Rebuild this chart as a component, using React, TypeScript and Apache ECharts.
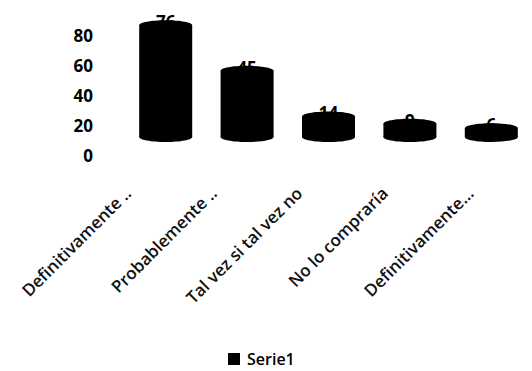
import React, { useEffect, useRef } from "react";
import * as echarts from "echarts";

const categories = [
  "Definitivamente ..",
  "Probablemente ..",
  "Tal vez si tal vez no",
  "No lo compraría",
  "Definitivamente...",
];
const values = [76, 45, 14, 9, 6];
const yTicks = [0, 20, 40, 60, 80];
const seriesName = "Serie1";

const FONT = "'Open Sans', 'DejaVu Sans', sans-serif";

export default function App() {
  const ref = useRef<HTMLDivElement>(null);
  useEffect(() => {
    if (!ref.current) return;
    const chart = echarts.init(ref.current, undefined, { renderer: "svg" });
    const option: any = {
      animation: false,
      color: ["#000000"],
      grid: [
        { left: 101, top: 35.5, width: 20, height: 119.5 },
        { left: 125, top: 19.4, width: 432, height: 117.6 },
        { left: 85, top: 150, width: 428, height: 32 },
      ],
      xAxis: [
        { gridIndex: 0, type: "category", show: false, data: [""] },
        { gridIndex: 1, type: "category", show: false, data: categories },
        {
          gridIndex: 2,
          type: "category",
          data: categories,
          axisLine: { show: false },
          axisTick: { show: false },
          axisLabel: {
            rotate: 45,
            interval: 0,
            margin: 8,
            fontSize: 17,
            fontWeight: 600,
            fontFamily: FONT,
            color: "#111",
          },
        },
      ],
      yAxis: [
        {
          gridIndex: 0,
          type: "value",
          min: yTicks[0],
          max: yTicks[yTicks.length - 1],
          interval: 20,
          axisLine: { show: false },
          axisTick: { show: false },
          splitLine: { show: false },
          axisLabel: {
            margin: 8,
            fontSize: 17,
            fontWeight: "bold",
            fontFamily: FONT,
            color: "#000",
          },
        },
        { gridIndex: 1, type: "value", min: 0, max: 80, show: false },
        { gridIndex: 2, type: "value", show: false },
      ],
      legend: {
        top: 346,
        left: 223,
        padding: 5,
        itemWidth: 12,
        itemHeight: 12,
        itemGap: 8,
        data: [{ name: seriesName, icon: "rect" }],
        textStyle: {
          fontSize: 16,
          lineHeight: 16,
          fontWeight: 600,
          fontFamily: FONT,
          color: "#000",
          padding: [0, 0, 0, 2],
        },
      },
      series: [
        {
          name: seriesName,
          type: "custom",
          xAxisIndex: 1,
          yAxisIndex: 1,
          itemStyle: { color: "#000" },
          data: values.map((v, i) => [i, v]),
          renderItem: (params: any, api: any) => {
            const idx = api.value(0);
            const v = api.value(1);
            const top = api.coord([idx, v]);
            const base = api.coord([idx, 0]);
            const w = 53;
            const rx = w / 2;
            const ry = 5;
            return {
              type: "group",
              children: [
                {
                  type: "text",
                  style: {
                    text: String(v),
                    x: top[0],
                    y: top[1] - ry - 7,
                    align: "center",
                    verticalAlign: "top",
                    fontSize: 17,
                    fontWeight: "bold",
                    fontFamily: FONT,
                    fill: "#000",
                  },
                },
                {
                  type: "rect",
                  shape: { x: top[0] - rx, y: top[1], width: w, height: base[1] - top[1] },
                  style: { fill: "#000" },
                },
                {
                  type: "ellipse",
                  shape: { cx: top[0], cy: top[1], rx, ry },
                  style: { fill: "#000" },
                },
                {
                  type: "ellipse",
                  shape: { cx: base[0], cy: base[1], rx, ry },
                  style: { fill: "#000" },
                },
              ],
            };
          },
        },
      ],
    };
    chart.setOption(option);
    return () => chart.dispose();
  }, []);
  return (
    <div
      ref={ref}
      style={{ position: "absolute", left: 0, top: 0, width: 532, height: 371, background: "#fff" }}
    />
  );
}
